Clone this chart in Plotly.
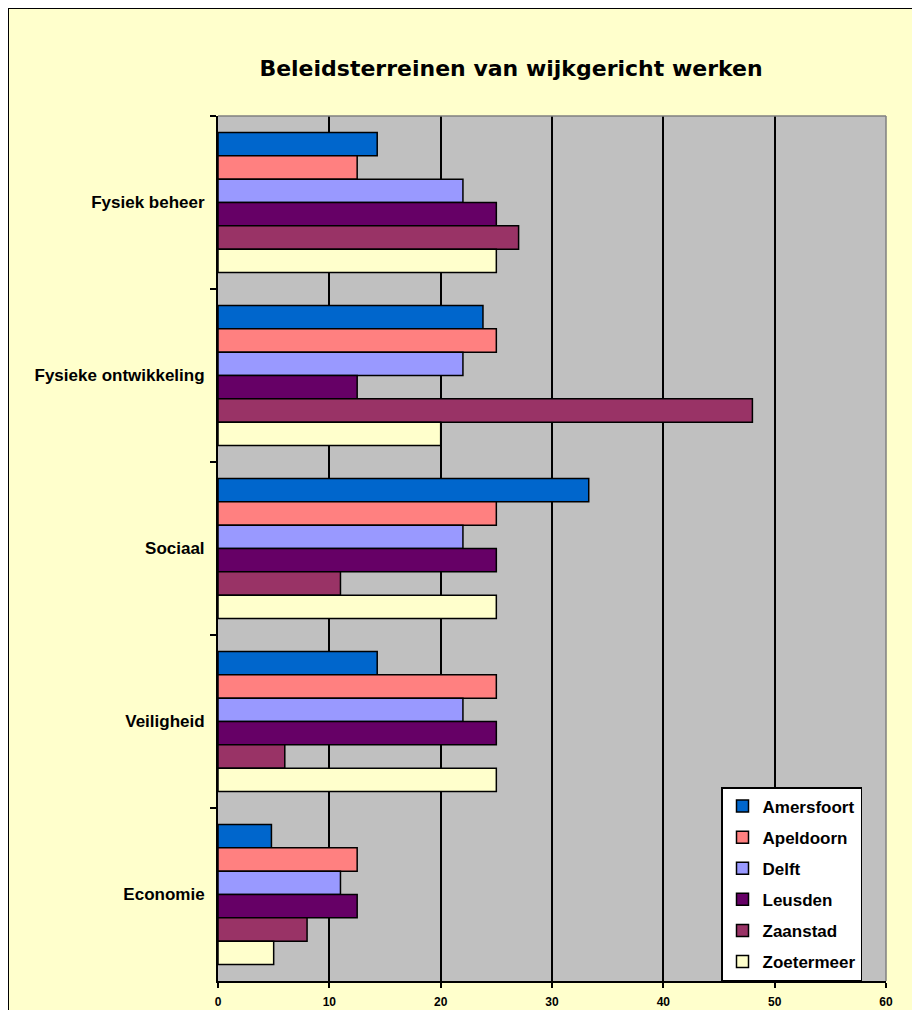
import plotly.graph_objects as go

categories = ["Fysiek beheer", "Fysieke ontwikkeling", "Sociaal", "Veiligheid", "Economie"]
amersfoort = [14.3, 23.8, 33.3, 14.3, 4.8]
apeldoorn = [12.5, 25, 25, 25, 12.5]
delft = [22, 22, 22, 22, 11]
leusden = [25, 12.5, 25, 25, 12.5]
zaanstad = [27, 48, 11, 6, 8]
zoetermeer = [25, 20, 25, 25, 5]

series = [
    ("Amersfoort", amersfoort, "#0066CC"),
    ("Apeldoorn", apeldoorn, "#FF8080"),
    ("Delft", delft, "#9999FF"),
    ("Leusden", leusden, "#660066"),
    ("Zaanstad", zaanstad, "#993366"),
    ("Zoetermeer", zoetermeer, "#FFFFCC"),
]

fig = go.Figure()
for i, (name, vals, col) in enumerate(series):
    fig.add_trace(go.Bar(
        y=categories, x=vals, name=name, orientation="h",
        marker=dict(color=col, line=dict(color="black", width=1.5)),
        legendgroup=f"g{i}",
    ))

# page has an 8px body margin; compensate
OFF = 8
W, H = 912, 1002
L, T = 218 - OFF, 116 - OFF
PR, PB = 886 - OFF, 981 - OFF
R, B = W - PR, H - PB
pw, ph = PR - L, PB - T

def px_to_paper_x(px):
    return (px - OFF - L) / pw

def px_to_paper_y(py):
    return (PB - (py - OFF)) / ph

# outer chart border
fig.add_shape(type="rect", xref="paper", yref="paper",
              x0=px_to_paper_x(8), x1=px_to_paper_x(940),
              y0=px_to_paper_y(1030), y1=px_to_paper_y(8),
              line=dict(color="black", width=2), layer="above")
# thin gray plot-area edges on top and right
fig.add_shape(type="line", xref="paper", yref="paper", x0=0, x1=1, y0=1, y1=1,
              line=dict(color="#808080", width=1.5), layer="above")
fig.add_shape(type="line", xref="paper", yref="paper", x0=1, x1=1, y0=0, y1=1,
              line=dict(color="#808080", width=1.5), layer="above")

fig.update_layout(
    width=W, height=H,
    margin=dict(l=L, r=R, t=T, b=B, autoexpand=False),
    paper_bgcolor="#FFFFCC",
    plot_bgcolor="#C0C0C0",
    barmode="group",
    bargap=0.19,
    bargroupgap=0,
    title=dict(text="<b>Beleidsterreinen van wijkgericht werken</b>",
               font=dict(family="Comic Sans MS, DejaVu Sans", size=22, color="black"),
               x=(511 - OFF) / W, xanchor="center", y=1 - (68 - OFF) / H, yanchor="middle",
               xref="container", yref="container"),
    showlegend=True,
    legend=dict(
        x=px_to_paper_x(721), y=px_to_paper_y(787), xanchor="left", yanchor="top",
        bgcolor="white", bordercolor="black", borderwidth=1.5,
        font=dict(family="Liberation Sans, Arial", size=17, color="black", weight="bold"),
        traceorder="grouped", tracegroupgap=6, itemwidth=30,
    ),
    font=dict(family="Liberation Sans, Arial", color="black"),
)

fig.update_xaxes(
    range=[0, 60], dtick=10, tick0=0,
    showgrid=True, gridcolor="black", gridwidth=1.5,
    showline=True, linecolor="black", linewidth=2,
    ticks="outside", ticklen=5, tickwidth=2, tickcolor="black",
    tickfont=dict(family="Liberation Sans, Arial", size=12, color="black", weight="bold"),
    ticklabelstandoff=4, automargin=False,
    zeroline=False, fixedrange=True,
)
fig.update_yaxes(
    autorange="reversed", tickson="boundaries",
    showline=True, linecolor="black", linewidth=2,
    ticks="outside", ticklen=6, tickwidth=2, tickcolor="black",
    tickfont=dict(family="Liberation Sans, Arial", size=17, color="black", weight="bold"),
    showgrid=False, ticklabelstandoff=8, automargin=False,
)

fig.write_html("out.html")
